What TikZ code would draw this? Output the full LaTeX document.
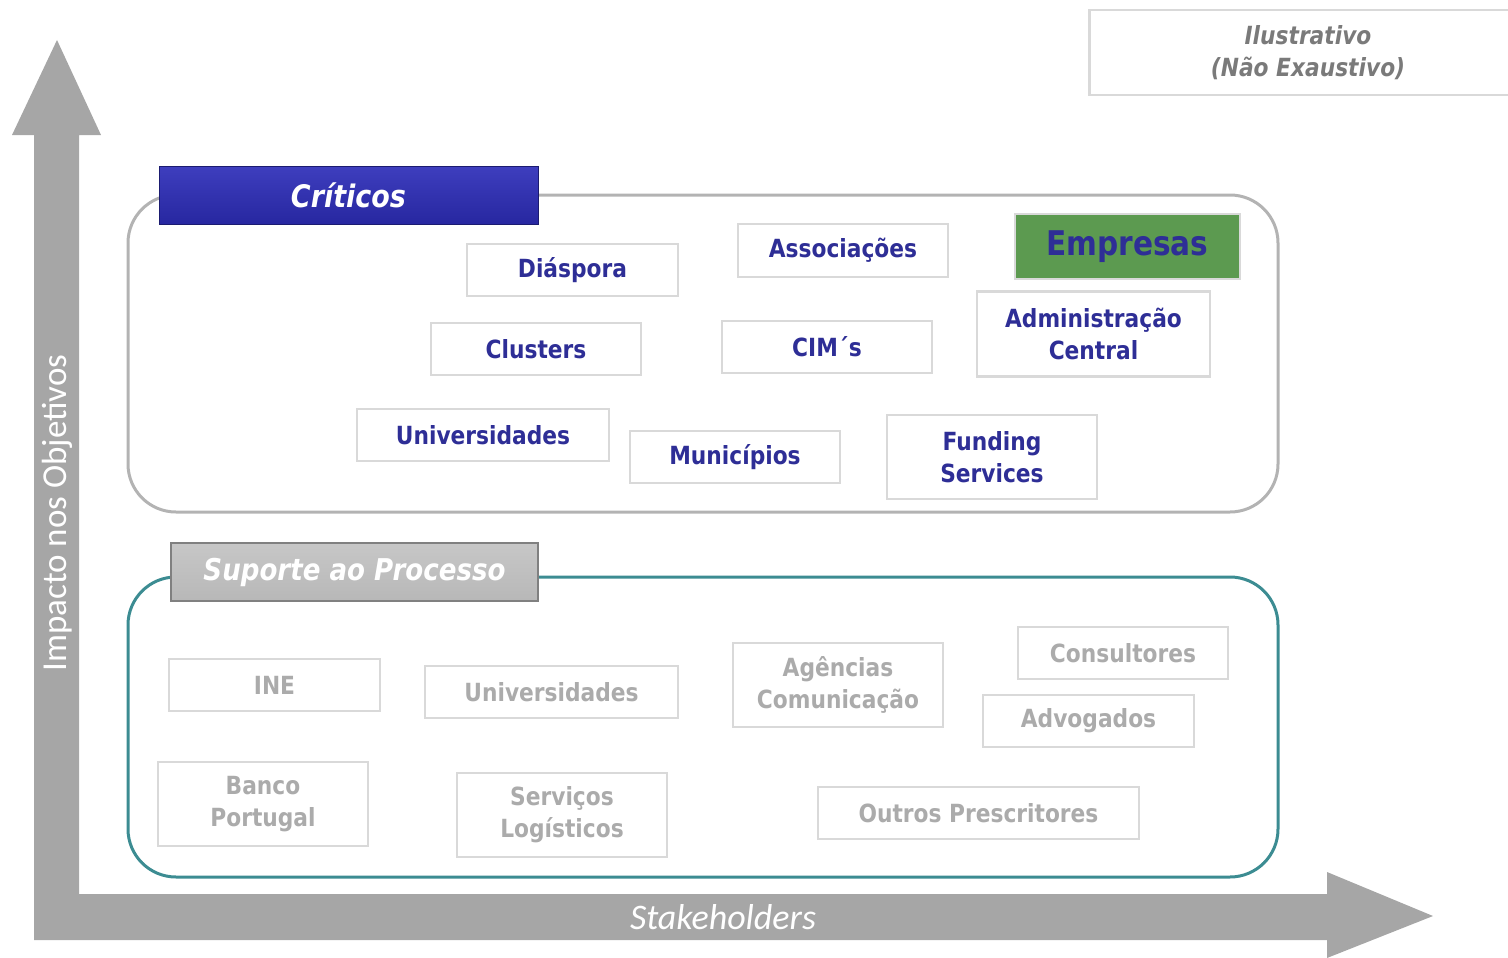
\documentclass[tikz,border=0pt]{standalone}
\usepackage{fontspec}
\setmainfont{DejaVu Sans}[FakeStretch=0.87]
\newfontfamily\calib{Carlito}
\usetikzlibrary{shadings}
\definecolor{axisgray}{HTML}{A6A6A6}
\definecolor{boxline}{HTML}{D9D9D9}
\definecolor{critline}{HTML}{B3B3B3}
\definecolor{teal}{HTML}{3C8C92}
\definecolor{navy}{HTML}{2E2E96}
\definecolor{supgray}{HTML}{ABABAB}
\definecolor{egreen}{HTML}{5C9A50}
\definecolor{hblueT}{HTML}{3E3EBE}
\definecolor{hblueB}{HTML}{2727A0}
\definecolor{illgray}{HTML}{7A7A7A}
\tikzset{
  sbox/.style={draw=boxline, line width=2.5pt, fill=white, inner sep=0pt, align=center,
    font=\bfseries\fontsize{25}{32}\selectfont},
  crit/.style={sbox, text=navy},
  supp/.style={sbox, text=supgray},
  panel/.style={rounded corners=48pt, line width=3pt},
}
\begin{document}
\begin{tikzpicture}[x=1pt,y=-1pt]
\useasboundingbox (0,0) rectangle (1508,958);
% axes
\fill[axisgray] (34,940) -- (34,135) -- (12,135) -- (57,40) -- (101,135) -- (79,135) -- (79,894)
  -- (1327,894) -- (1327,872) -- (1433,916) -- (1327,958) -- (1327,940) -- cycle;
\node[rotate=90, text=white, font=\calib\fontsize{35}{40}\selectfont] (yl) at (57,513) {Impacto nos Objetivos};
\node[text=white, font=\calib\itshape\fontsize{36}{40}\selectfont] (xl) at (723,917) {Stakeholders};
% illustrativo
\node[draw=boxline, line width=2.5pt, fill=white, minimum width=440pt, minimum height=85pt, anchor=north west,
  inner sep=0pt] (ill) at (1088,9) {};
\node[text=illgray, align=center, font=\bfseries\itshape\fontsize{25}{32}\selectfont] (illt) at (1308,53) {Ilustrativo\\(Não Exaustivo)};
% panels
\draw[panel, draw=critline] (128,195) rectangle (1278,512);
\draw[panel, draw=teal] (128,577) rectangle (1278,877);
% headers
\node[draw=hblueB!70!black, line width=1pt, top color=hblueT, bottom color=hblueB, minimum width=379pt, minimum height=58pt,
  inner sep=0pt, text=white, font=\bfseries\itshape\fontsize{31}{36}\selectfont] (hc) at (348.5,195) {Críticos};
\node[draw=gray, line width=1.5pt, top color=black!22, bottom color=black!28, minimum width=367pt, minimum height=58pt,
  inner sep=0pt, text=white, font=\bfseries\itshape\fontsize{30}{36}\selectfont] (hs) at (354.5,572) {Suporte ao Processo};
% critical boxes
\node[crit, minimum width=211pt, minimum height=52pt] (dias) at (572.5,270) {Diáspora};
\node[crit, minimum width=210pt, minimum height=53pt] (assoc) at (843,250.5) {Associações};
\node[sbox, fill=egreen, text=navy, minimum width=225pt, minimum height=65pt, font=\bfseries\fontsize{34}{40}\selectfont] (emp) at (1127.5,246.5) {Empresas};
\node[crit, minimum width=210pt, minimum height=52pt] (clus) at (536,349) {Clusters};
\node[crit, minimum width=210pt, minimum height=52pt] (cim) at (827,347) {CIM´s};
\node[crit, minimum width=233pt, minimum height=85pt] (adm) at (1093.5,334) {Administração\\Central};
\node[crit, minimum width=252pt, minimum height=52pt] (univ) at (483,435) {Universidades};
\node[crit, minimum width=210pt, minimum height=52pt] (mun) at (735,457) {Municípios};
\node[crit, minimum width=210pt, minimum height=84pt] (fund) at (992,457) {Funding\\Services};
% support boxes
\node[supp, minimum width=211pt, minimum height=52pt] (ine) at (274.5,685) {INE};
\node[supp, minimum width=253pt, minimum height=52pt] (univ2) at (551.5,692) {Universidades};
\node[supp, minimum width=210pt, minimum height=84pt] (agen) at (838,685) {Agências\\Comunicação};
\node[supp, minimum width=210pt, minimum height=52pt] (cons) at (1123,653) {Consultores};
\node[supp, minimum width=211pt, minimum height=52pt] (adv) at (1088.5,721) {Advogados};
\node[supp, minimum width=210pt, minimum height=84pt] (banco) at (263,804) {Banco\\Portugal};
\node[supp, minimum width=210pt, minimum height=84pt] (serv) at (562,815) {Serviços\\Logísticos};
\node[supp, minimum width=321pt, minimum height=52pt] (outros) at (978.5,813) {Outros Prescritores};
\end{tikzpicture}
\end{document}
